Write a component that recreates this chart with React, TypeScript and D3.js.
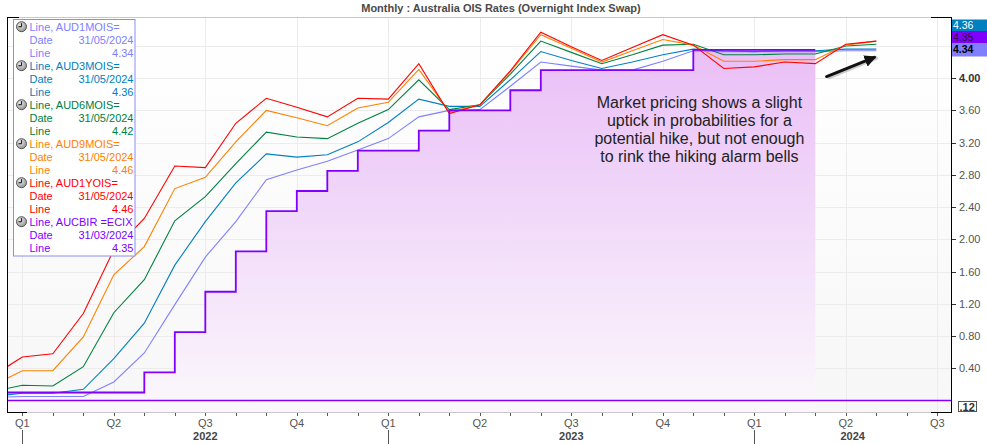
import React from 'react';
import * as d3 from 'd3';

// ---------- DATA ----------
const months = [
  '2021-12', '2022-01', '2022-02', '2022-03', '2022-04', '2022-05', '2022-06', '2022-07', '2022-08', '2022-09',
  '2022-10', '2022-11', '2022-12', '2023-01', '2023-02', '2023-03', '2023-04', '2023-05', '2023-06', '2023-07',
  '2023-08', '2023-09', '2023-10', '2023-11', '2023-12', '2024-01', '2024-02', '2024-03', '2024-04', '2024-05',
];
const aud1mois = [0.04, 0.05, 0.05, 0.05, 0.23, 0.59, 1.19, 1.78, 2.22, 2.74, 2.86, 2.97, 3.11, 3.25, 3.52, 3.60, 3.61, 3.90, 4.20, 4.15, 4.10, 4.10, 4.21, 4.34, 4.33, 4.33, 4.33, 4.33, 4.34, 4.34];
const aud3mois = [0.05, 0.09, 0.09, 0.14, 0.52, 0.96, 1.68, 2.22, 2.70, 3.06, 3.02, 3.05, 3.21, 3.45, 3.74, 3.65, 3.65, 3.98, 4.33, 4.22, 4.12, 4.20, 4.29, 4.36, 4.34, 4.33, 4.34, 4.34, 4.36, 4.36];
const aud6mois = [0.11, 0.19, 0.18, 0.42, 1.09, 1.50, 2.23, 2.53, 2.94, 3.33, 3.27, 3.25, 3.44, 3.61, 3.98, 3.61, 3.67, 4.05, 4.46, 4.32, 4.18, 4.29, 4.41, 4.42, 4.29, 4.29, 4.30, 4.30, 4.40, 4.42];
const aud9mois = [0.18, 0.37, 0.37, 0.79, 1.56, 1.91, 2.63, 2.77, 3.21, 3.60, 3.51, 3.41, 3.63, 3.70, 4.11, 3.58, 3.67, 4.08, 4.54, 4.37, 4.20, 4.34, 4.48, 4.41, 4.21, 4.21, 4.23, 4.23, 4.41, 4.46];
const aud1yois = [0.30, 0.54, 0.58, 1.08, 1.87, 2.26, 2.91, 2.89, 3.44, 3.75, 3.64, 3.52, 3.75, 3.74, 4.18, 3.56, 3.67, 4.09, 4.57, 4.39, 4.22, 4.38, 4.54, 4.41, 4.12, 4.14, 4.20, 4.18, 4.42, 4.46];
// RBA cash rate, monthly, Dec 2021 .. Mar 2024
const aucbir = [0.10, 0.10, 0.10, 0.10, 0.10, 0.35, 0.85, 1.35, 1.85, 2.35, 2.60, 2.85, 3.10, 3.10, 3.35, 3.60, 3.60, 3.85, 4.10, 4.10, 4.10, 4.10, 4.10, 4.35, 4.35, 4.35, 4.35, 4.35];

const seriesNames = ['AUD1MOIS=', 'AUD3MOIS=', 'AUD6MOIS=', 'AUD9MOIS=', 'AUD1YOIS=', 'AUCBIR =ECIX'];
const seriesDates = ['31/05/2024', '31/05/2024', '31/05/2024', '31/05/2024', '31/05/2024', '31/03/2024'];
const seriesColors = ['#8080ff', '#0080c0', '#008040', '#ff8000', '#ff0000', '#8000ff'];

const yGridTicks = [0.4, 0.8, 1.2, 1.6, 2.0, 2.4, 2.8, 3.2, 3.6, 4.0, 4.4];
const yLabelTicks = [0.4, 0.8, 1.2, 1.6, 2.0, 2.4, 2.8, 3.2, 3.6, 4.0];
const quarterLabels = ['Q1', 'Q2', 'Q3', 'Q4'];
const yearLabels = ['2022', '2023', '2024'];
const baselineValue = 0.0;
const baselineLabel = '.12';

const title = 'Monthly : Australia OIS Rates (Overnight Index Swap)';
const noteLines = [
  'Market pricing shows a slight',
  'uptick in probabilities for a',
  'potential hike, but not enough',
  'to rink the hiking alarm bells',
];
// annotation anchor / arrow in data coords (month index, rate)
const noteAnchor = { m: 22.2, v: 3.71 };
const arrowTail = { m: 26.37, v: 4.02 };
const arrowHead = { m: 28.0, v: 4.27 };

// ---------- LAYOUT ----------
const W = 987;
const H = 444;
const P = { left: 7, right: 951, top: 17, bottom: 412 };
const FONT = '"Liberation Sans", Arial, sans-serif';

const mIdx = (s: string) => {
  const [yy, mm] = s.split('-').map(Number);
  return (yy - 2022) * 12 + (mm - 1);
};

const x = d3.scaleLinear().domain([-0.502, 30.449]).range([P.left, P.right]);
const y = d3.scaleLinear().domain([-0.142, 4.759]).range([P.bottom, P.top]);

type Pt = { m: number; v: number };
const toPts = (vals: number[]): Pt[] => vals.map((v, i) => ({ m: mIdx(months[i]), v }));

const lineGen = d3.line<Pt>().x(d => x(d.m)).y(d => y(d.v));
const stepGen = d3.line<Pt>().x(d => x(d.m)).y(d => y(d.v)).curve(d3.curveStepAfter);
const areaGen = d3.area<Pt>().x(d => x(d.m)).y0(P.bottom).y1(d => y(d.v)).curve(d3.curveStepAfter);

const oisSeries = [aud1mois, aud3mois, aud6mois, aud9mois, aud1yois];
const allSeries = [...oisSeries, aucbir];

function ClockIcon({ cx, cy }: { cx: number; cy: number }) {
  return (
    <g>
      <circle cx={cx} cy={cy} r={5} fill="url(#clockGrad)" stroke="#555" strokeWidth={1} />
      <line x1={cx} y1={cy} x2={cx} y2={cy - 3.5} stroke="#222" strokeWidth={1.2} />
      <line x1={cx} y1={cy} x2={cx - 3} y2={cy} stroke="#222" strokeWidth={1.2} />
    </g>
  );
}

export default function App() {
  const quarterIdx = d3.range(0, 31, 3);
  const monthTicks = d3.range(0, 31);
  const yearStarts = [0, 12, 24];

  const legendRow = 13;
  const legendY0 = 26.7;

  const lastVal = (arr: number[]) => arr[arr.length - 1];
  const boxes = [
    { val: lastVal(aud3mois), fill: '#0080c0', color: '#ffffff', bold: false, y0: 19.5, h: 11.5 },
    { val: lastVal(aucbir), fill: '#8000ff', color: '#2a1040', bold: false, y0: 31, h: 12 },
    { val: lastVal(aud1mois), fill: '#8080ff', color: '#000000', bold: true, y0: 43, h: 13.5 },
  ];

  return (
    <svg width={W} height={H} style={{ position: 'absolute', left: 0, top: 0, display: 'block', background: '#fff' }}
      fontFamily={FONT}>
      <defs>
        <linearGradient id="bgGrad" x1="0" y1="0" x2="0" y2="1">
          <stop offset="0" stopColor="#ffffff" />
          <stop offset="1" stopColor="#f7f7f8" />
        </linearGradient>
        <linearGradient id="fillGrad" gradientUnits="userSpaceOnUse" x1="0" y1={P.top} x2="0" y2={P.bottom}>
          <stop offset="0" stopColor="#e9baf6" />
          <stop offset="0.5" stopColor="#f1d9f9" />
          <stop offset="1" stopColor="#fbf8fc" />
        </linearGradient>
        <radialGradient id="clockGrad" cx="0.4" cy="0.35" r="0.7">
          <stop offset="0" stopColor="#f2f2f2" />
          <stop offset="1" stopColor="#8a8a8a" />
        </radialGradient>
        <clipPath id="plotClip">
          <rect x={P.left} y={P.top} width={P.right - P.left} height={P.bottom - P.top} />
        </clipPath>
        <marker id="arrowHead" viewBox="0 0 10 10" refX="8" refY="5" markerWidth="4" markerHeight="4" orient="auto">
          <path d="M0,0 L10,5 L0,10 z" fill="#111" />
        </marker>
      </defs>

      {/* title */}
      <text x={(P.left + P.right) / 2 + 22} y={12} textAnchor="middle" fontSize={11} fontWeight="bold" fill="#4a4a4a">
        {title}
      </text>

      {/* plot background */}
      <rect x={P.left} y={P.top} width={P.right - P.left} height={P.bottom - P.top} fill="url(#bgGrad)" />

      {/* grid */}
      <g stroke="#ececec" strokeWidth={1}>
        {yGridTicks.map(t => (
          <line key={'gy' + t} x1={P.left} x2={P.right} y1={Math.round(y(t)) + 0.5} y2={Math.round(y(t)) + 0.5} />
        ))}
        {quarterIdx.map(q => (
          <line key={'gx' + q} x1={Math.round(x(q)) + 0.5} x2={Math.round(x(q)) + 0.5} y1={P.top} y2={P.bottom} />
        ))}
      </g>

      <g clipPath="url(#plotClip)">
        {/* cash rate fill */}
        <path d={areaGen(toPts(aucbir)) || ''} fill="url(#fillGrad)" />
        {/* baseline */}
        <line x1={P.left} x2={P.right} y1={y(baselineValue)} y2={y(baselineValue)} stroke="#8000ff" strokeWidth={1.6} />
        {/* OIS lines */}
        {oisSeries.map((s, i) => (
          <path key={'l' + i} d={lineGen(toPts(s)) || ''} fill="none" stroke={seriesColors[i]} strokeWidth={1.1} />
        ))}
        {/* cash rate step */}
        <path d={stepGen(toPts(aucbir)) || ''} fill="none" stroke="#8000ff" strokeWidth={1.8} />
      </g>

      {/* frame */}
      <line x1={P.left} x2={P.right} y1={P.top + 0.5} y2={P.top + 0.5} stroke="#c8c8c8" />
      <line x1={P.left} x2={P.right} y1={P.bottom + 0.5} y2={P.bottom + 0.5} stroke="#c8c8c8" />
      <line x1={P.left + 0.5} x2={P.left + 0.5} y1={P.top} y2={P.bottom + 1} stroke="#000" />
      <line x1={P.right + 0.5} x2={P.right + 0.5} y1={P.top} y2={P.bottom + 1} stroke="#000" />
      <line x1={P.left} x2={P.left + 12} y1={P.top + 0.5} y2={P.top + 0.5} stroke="#000" />
      <line x1={P.right - 20} x2={P.right + 1} y1={P.top + 0.5} y2={P.top + 0.5} stroke="#000" />
      <line x1={P.left} x2={P.left + 20} y1={P.bottom + 0.5} y2={P.bottom + 0.5} stroke="#000" />
      <line x1={P.right - 20} x2={P.right + 1} y1={P.bottom + 0.5} y2={P.bottom + 0.5} stroke="#000" />

      {/* right axis */}
      <g fontSize={11}>
        {yGridTicks.map(t => (
          <line key={'ytk' + t} x1={P.right + 1} x2={P.right + 5} y1={Math.round(y(t)) + 0.5} y2={Math.round(y(t)) + 0.5} stroke="#333" />
        ))}
        {yLabelTicks.map(t => (
          <text key={'yt' + t} x={P.right + 8} y={y(t) + 4} fill={t === 4.0 ? '#333' : '#555'} fontWeight={t === 4.0 ? 'bold' : 'normal'}>
            {t.toFixed(2)}
          </text>
        ))}
      </g>

      {/* value boxes */}
      {boxes.map((b, i) => (
        <g key={'box' + i}>
          <rect x={P.right + 1} y={b.y0} width={W - P.right - 1} height={b.h} fill={b.fill} />
          <text x={P.right + 2} y={b.y0 + b.h / 2 + 3.5} fontSize={10.5} fill={b.color} fontWeight={b.bold ? 'bold' : 'normal'}>
            {b.val.toFixed(2)}
          </text>
        </g>
      ))}
      <rect x={P.right + 7.5} y={401.5} width={18} height={10} fill="#fff" stroke="#555" />
      <text x={P.right + 8.5} y={410.5} fontSize={11} fontWeight="bold" fill="#333">{baselineLabel}</text>

      {/* bottom axis */}
      <g stroke="#555">
        {monthTicks.map(m => (
          <line key={'mt' + m} x1={Math.round(x(m)) + 0.5} x2={Math.round(x(m)) + 0.5} y1={P.bottom + 1} y2={P.bottom + 4} />
        ))}
        {yearStarts.map(m => (
          <line key={'yr' + m} x1={Math.round(x(m)) + 0.5} x2={Math.round(x(m)) + 0.5} y1={430} y2={H} />
        ))}
      </g>
      <g fontSize={11} fill="#555" textAnchor="middle">
        {quarterIdx.map((q, i) => (
          <text key={'ql' + q} x={x(q)} y={427}>{quarterLabels[i % 4]}</text>
        ))}
        {yearLabels.map((yl, i) => {
          const a = Math.max(P.left, x(i * 12));
          const b = Math.min(P.right, x(i * 12 + 12));
          return (
            <text key={'yl' + yl} x={(a + b) / 2} y={440} fontWeight="bold" fill="#444">{yl}</text>
          );
        })}
      </g>

      {/* annotation */}
      <g fontSize={16} fill="#222" textAnchor="middle">
        {noteLines.map((ln, i) => (
          <text key={'n' + i} x={x(noteAnchor.m)} y={y(noteAnchor.v) + 6 + i * 18.1}>{ln}</text>
        ))}
      </g>
      <line x1={x(arrowTail.m) + 1.5} y1={y(arrowTail.v) + 1.5} x2={x(arrowHead.m) + 1.5} y2={y(arrowHead.v) + 1.5}
        stroke="#999" strokeOpacity={0.5} strokeWidth={3} />
      <line x1={x(arrowTail.m)} y1={y(arrowTail.v)} x2={x(arrowHead.m) - 2} y2={y(arrowHead.v) + 1}
        stroke="#111" strokeWidth={3} strokeLinecap="round" markerEnd="url(#arrowHead)" />

      {/* legend */}
      <rect x={13.5} y={19.5} width={121.5} height={236.5} fill="#fff" stroke="#8c8cf0" />
      <g fontSize={11}>
        {seriesNames.map((nm, i) => {
          const c0 = legendY0 + i * 3 * legendRow;
          const col = seriesColors[i];
          return (
            <g key={'lg' + i} fill={col}>
              <ClockIcon cx={21.5} cy={c0} />
              <text x={29.5} y={c0 + 4}>{'Line, ' + nm}</text>
              <text x={29.5} y={c0 + legendRow + 4}>Date</text>
              <text x={133.5} y={c0 + legendRow + 4} textAnchor="end">{seriesDates[i]}</text>
              <text x={29.5} y={c0 + 2 * legendRow + 4}>Line</text>
              <text x={133.5} y={c0 + 2 * legendRow + 4} textAnchor="end">{lastVal(allSeries[i]).toFixed(2)}</text>
            </g>
          );
        })}
      </g>
    </svg>
  );
}
